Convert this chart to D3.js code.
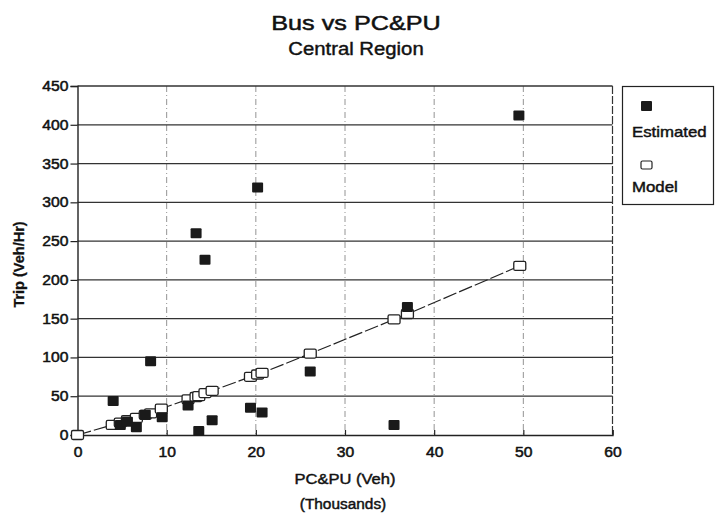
<!DOCTYPE html>
<html><head><meta charset="utf-8">
<script src="https://cdn.jsdelivr.net/npm/d3@7"></script>
<style>
html,body{margin:0;padding:0;background:#fff;}
text{font-family:"Liberation Sans",Arial,Helvetica,sans-serif;fill:#111;}
</style></head>
<body>
<svg id="c" width="716" height="517"></svg>
<script>
// ---- data ----
const estX = [4.0, 4.8, 5.6, 6.6, 7.6, 8.2, 9.5, 12.4, 13.3, 13.6, 14.3, 15.1, 19.4, 20.2, 20.7, 26.1, 35.5, 37.0, 49.5];
const estY = [44, 13, 17, 10, 26, 95, 23, 38, 260, 5, 226, 19, 35, 319, 29, 82, 13, 165, 412];
const modelX = [0, 3.9, 4.8, 5.6, 6.6, 7.6, 8.2, 9.4, 12.4, 13.3, 13.6, 14.3, 15.1, 19.4, 20.2, 20.7, 26.1, 35.5, 37.0, 49.6];
const modelY = [0, 13, 16, 19, 22, 26, 28, 34, 46, 49, 50, 54, 57, 75, 78, 80, 105, 149, 156, 218];
const xTicks = [0, 10, 20, 30, 40, 50, 60];
const yTicks = [0, 50, 100, 150, 200, 250, 300, 350, 400, 450];
const titleText = "Bus vs PC&PU";
const subtitleText = "Central Region";
const xLabel1 = "PC&PU (Veh)";
const xLabel2 = "(Thousands)";
const yLabel = "Trip (Veh/Hr)";
const legendNames = ["Estimated", "Model"];

const svg = d3.select("#c");
const x = d3.scaleLinear().domain([0, 60]).range([77.5, 612.5]);
const y = d3.scaleLinear().domain([0, 450]).range([435, 86]);

function stretch(sel, f) {
  sel.each(function () {
    const L = this.getComputedTextLength();
    d3.select(this).attr("textLength", L * f).attr("lengthAdjust", "spacingAndGlyphs");
  });
}
function heavy(sel, w) {
  sel.attr("stroke", "#111").attr("stroke-width", w).attr("fill", "#111");
}

// vertical dashed grid
svg.append("g").selectAll("line").data(xTicks.filter(d => d > 0 && d < 60)).join("line")
  .attr("x1", d => x(d)).attr("x2", d => x(d)).attr("y1", y(450)).attr("y2", y(0))
  .attr("stroke", "#888").attr("stroke-width", 0.9).attr("stroke-dasharray", "6,3,1,3");

// horizontal grid
svg.append("g").selectAll("line").data(yTicks.filter(d => d > 0)).join("line")
  .attr("x1", x(0)).attr("x2", x(60)).attr("y1", d => y(d)).attr("y2", d => y(d))
  .attr("stroke", "#333").attr("stroke-width", 1.3);

// frame
svg.append("line").attr("x1", x(60)).attr("x2", x(60)).attr("y1", y(450)).attr("y2", y(0))
  .attr("stroke", "#333").attr("stroke-width", 1.2).attr("stroke-dasharray", "8,2");

// axes
const yAxis = d3.axisLeft(y).tickValues(yTicks).tickSize(7).tickPadding(2);
const gy = svg.append("g").attr("transform", `translate(${x(0)},0)`).call(yAxis);
gy.select(".domain").attr("stroke", "#222").attr("stroke-width", 1.4);
gy.selectAll(".tick line").attr("stroke", "#222").attr("stroke-width", 1.2);
gy.selectAll(".tick text").attr("font-size", 14)
  .style("font-family", '"Liberation Sans",Arial,sans-serif');
heavy(gy.selectAll(".tick text"), 0.5);
stretch(gy.selectAll(".tick text"), 1.12);

const xAxis = d3.axisBottom(x).tickValues(xTicks).tickSize(-5).tickPadding(12);
const gx = svg.append("g").attr("transform", `translate(0,${y(0)})`).call(xAxis);
gx.select(".domain").attr("stroke", "#222").attr("stroke-width", 1.4);
gx.selectAll(".tick line").attr("stroke", "#222").attr("stroke-width", 1.2);
gx.selectAll(".tick text").attr("font-size", 14)
  .style("font-family", '"Liberation Sans",Arial,sans-serif');
heavy(gx.selectAll(".tick text"), 0.5);
stretch(gx.selectAll(".tick text"), 1.12);

// model line
const line = d3.line().x((d, i) => x(modelX[i])).y((d, i) => y(modelY[i]));
svg.append("path").datum(modelX).attr("d", line)
  .attr("fill", "none").attr("stroke", "#222").attr("stroke-width", 1.2)
  .attr("stroke-dasharray", "14,3");

// model markers
svg.append("g").selectAll("rect").data(modelX).join("rect")
  .attr("x", (d, i) => x(modelX[i]) - 6).attr("y", (d, i) => y(modelY[i]) - 4.5)
  .attr("width", 12).attr("height", 9).attr("rx", 1.5)
  .attr("fill", "#fff").attr("stroke", "#222").attr("stroke-width", 1.3);

// estimated markers
svg.append("g").selectAll("rect").data(estX).join("rect")
  .attr("x", (d, i) => x(estX[i]) - 5.5).attr("y", (d, i) => y(estY[i]) - 5)
  .attr("width", 11).attr("height", 10).attr("rx", 1)
  .attr("fill", "#1a1a1a");

// titles
const t1 = svg.append("text").attr("x", 356).attr("y", 30).attr("text-anchor", "middle")
  .attr("font-size", 21).text(titleText);
heavy(t1, 0.5); stretch(t1, 1.2);
const t2 = svg.append("text").attr("x", 356).attr("y", 55).attr("text-anchor", "middle")
  .attr("font-size", 17.5).text(subtitleText);
heavy(t2, 0.4); stretch(t2, 1.16);

// axis titles
const xl1 = svg.append("text").attr("x", 345).attr("y", 484).attr("text-anchor", "middle")
  .attr("font-size", 15).text(xLabel1);
heavy(xl1, 0.45); stretch(xl1, 1.1);
const xl2 = svg.append("text").attr("x", 343).attr("y", 509).attr("text-anchor", "middle")
  .attr("font-size", 14).text(xLabel2);
heavy(xl2, 0.45); stretch(xl2, 1.1);
const yl = svg.append("text").attr("transform", `translate(24,${(y(0) + y(450)) / 2 + 4}) rotate(-90)`)
  .attr("text-anchor", "middle").attr("font-size", 14.5).attr("font-weight", "bold").text(yLabel);
heavy(yl, 0.3);

// legend
const lg = svg.append("g");
lg.append("rect").attr("x", 622.5).attr("y", 86.5).attr("width", 91).attr("height", 118)
  .attr("fill", "#fff").attr("stroke", "#222").attr("stroke-width", 1.2);
lg.append("rect").attr("x", 641).attr("y", 101).attr("width", 11).attr("height", 10).attr("rx", 1).attr("fill", "#1a1a1a");
lg.append("rect").attr("x", 641).attr("y", 161).attr("width", 11).attr("height", 8).attr("rx", 1.5)
  .attr("fill", "#fff").attr("stroke", "#222").attr("stroke-width", 1.2);
const le1 = lg.append("text").attr("x", 632).attr("y", 137).attr("font-size", 15).text(legendNames[0]);
heavy(le1, 0.45); stretch(le1, 1.12);
const le2 = lg.append("text").attr("x", 632).attr("y", 192).attr("font-size", 15).text(legendNames[1]);
heavy(le2, 0.45); stretch(le2, 1.12);
</script>
</body></html>
